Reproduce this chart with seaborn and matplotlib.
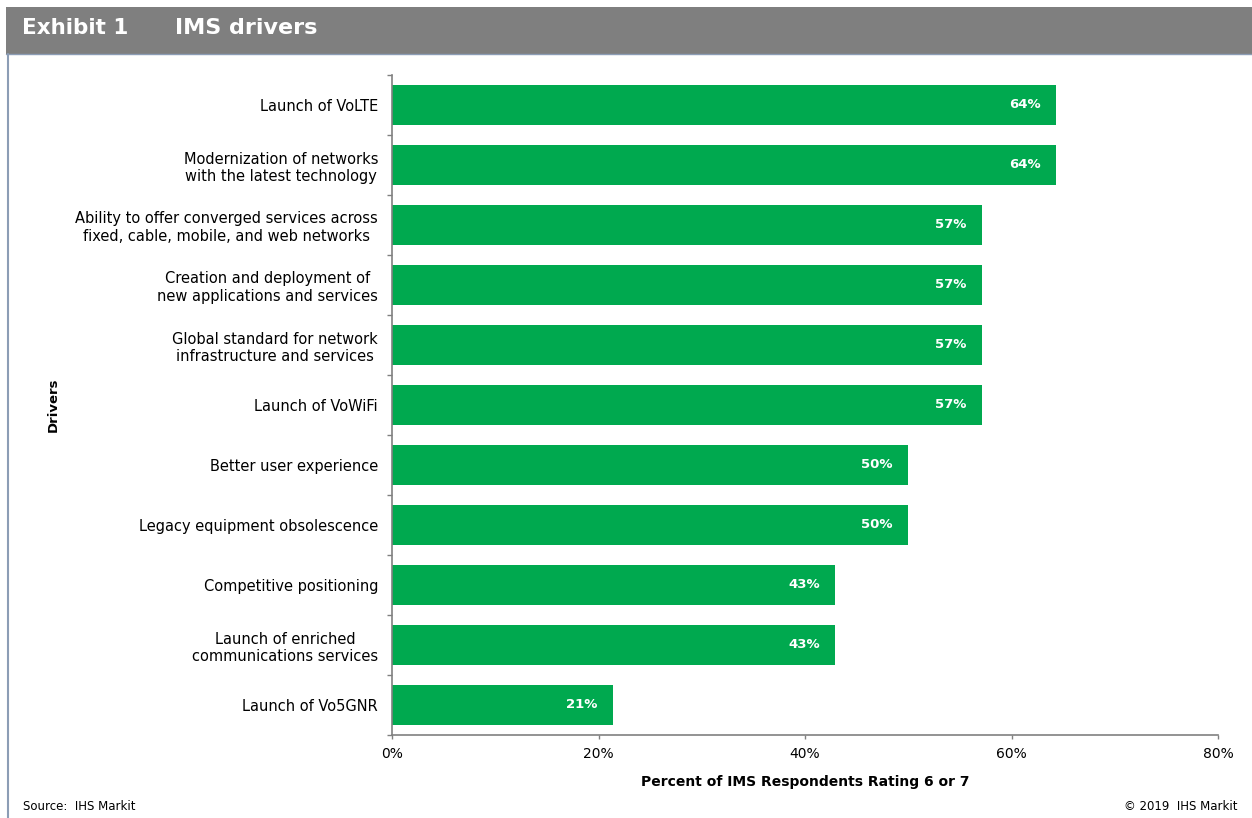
import matplotlib
matplotlib.use("Agg")
import matplotlib.pyplot as plt
from matplotlib.patches import Rectangle
from matplotlib.lines import Line2D
import seaborn as sns
import pandas as pd
import numpy as np

# Survey results: share of IMS respondents rating each driver 6 or 7
drivers = [
    "Launch of VoLTE",
    "Modernization of networks\nwith the latest technology",
    "Ability to offer converged services across\nfixed, cable, mobile, and web networks",
    "Creation and deployment of\nnew applications and services",
    "Global standard for network\ninfrastructure and services",
    "Launch of VoWiFi",
    "Better user experience",
    "Legacy equipment obsolescence",
    "Competitive positioning",
    "Launch of enriched\ncommunications services",
    "Launch of Vo5GNR",
]
percent = [64.3, 64.3, 57.1, 57.1, 57.1, 57.1, 50.0, 50.0, 42.9, 42.9, 21.4]
x_ticks = [0, 20, 40, 60, 80]
x_tick_labels = ["0%", "20%", "40%", "60%", "80%"]

GREEN = "#00A94F"
AXIS_GREY = "#808080"
BAR_GREY = "#7F7F7F"
FRAME_BLUE = "#8C9DB5"

df = pd.DataFrame({"driver": drivers, "percent": percent})

sns.set_theme(style="white")
plt.rcParams["font.family"] = ["DejaVu Sans"]
plt.rcParams["text.color"] = "black"
plt.rcParams["axes.labelcolor"] = "black"

W, H = 1252, 818
fig = plt.figure(figsize=(W / 100, H / 100), dpi=100)
fig.patch.set_facecolor("white")

# axes placed in pixel terms
left, right, top, bottom = 392, 1218, 75, 735
ax = fig.add_axes([left / W, 1 - bottom / H, (right - left) / W, (bottom - top) / H])

sns.barplot(data=df, x="percent", y="driver", orient="h", color=GREEN,
            width=0.667, saturation=1, ax=ax, edgecolor="none")

ax.set_xlim(0, 80)
ax.set_xticks(x_ticks)
ax.set_xticklabels(x_tick_labels, fontsize=10, color="black")
ax.tick_params(axis="x", direction="out", length=3, width=1, color=AXIS_GREY, pad=6, bottom=True)

# category labels without marks; boundary marks between categories
ax.tick_params(axis="y", which="major", length=0, pad=10, labelsize=10.5, labelcolor="black")
for lab in ax.get_yticklabels():
    lab.set_multialignment("center")
ax.set_yticks(np.arange(-0.5, len(drivers), 1.0), minor=True)
ax.tick_params(axis="y", which="minor", direction="out", length=3.6, width=1,
               color=AXIS_GREY, left=True)

for side in ["top", "right"]:
    ax.spines[side].set_visible(False)
for side in ["left", "bottom"]:
    ax.spines[side].set_color(AXIS_GREY)
    ax.spines[side].set_linewidth(1.2)

# value labels inside the bar ends
for i, v in enumerate(percent):
    ax.annotate(f"{v:.0f}%", xy=(v, i), xytext=(-11, 0), textcoords="offset points",
                ha="right", va="center", color="white", fontsize=9.5, fontweight="bold")

ax.set_xlabel("Percent of IMS Respondents Rating 6 or 7", fontsize=10, fontweight="bold",
              color="black")
ax.xaxis.set_label_coords(0.5, (bottom - 782) / (bottom - top))
ax.xaxis.label.set_va("center")
ax.set_ylabel("Drivers", fontsize=9.5, fontweight="bold", color="black")
ax.yaxis.set_label_coords((53 - left) / (right - left), 0.5)
ax.yaxis.label.set_va("center")
ax.yaxis.label.set_ha("center")

# header bar and frame
fig.add_artist(Rectangle((6 / W, 1 - 54 / H), 1 - 6 / W, 47 / H, transform=fig.transFigure,
                         facecolor=BAR_GREY, edgecolor="none", zorder=0))
fig.add_artist(Line2D([6 / W, 1], [1 - 54 / H, 1 - 54 / H], transform=fig.transFigure,
                      color=FRAME_BLUE, linewidth=1))
fig.add_artist(Line2D([7.5 / W, 7.5 / W], [0, 1 - 54 / H], transform=fig.transFigure,
                      color=FRAME_BLUE, linewidth=1.5))

fig.text(22 / W, 1 - 34 / H, "Exhibit 1", color="white", fontsize=15.5, fontweight="bold",
         ha="left", va="baseline")
fig.text(175 / W, 1 - 34 / H, "IMS drivers", color="white", fontsize=16, fontweight="bold",
         ha="left", va="baseline")

fig.text(23 / W, 1 - 806 / H, "Source:  IHS Markit", fontsize=8.5, ha="left", va="center",
         color="black")
fig.text(1237 / W, 1 - 806 / H, "\u00a9 2019  IHS Markit", fontsize=8.5, ha="right",
         va="center", color="black")

fig.savefig("out.png", dpi=100, facecolor="white")
